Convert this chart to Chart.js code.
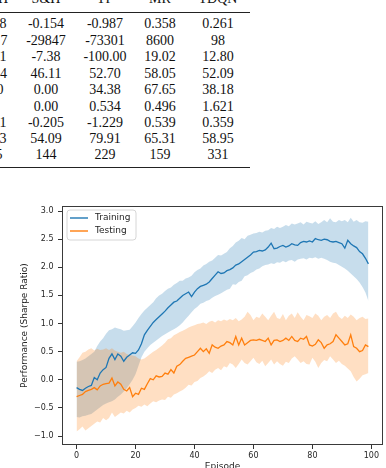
<!DOCTYPE html>
<html>
<head>
<meta charset="utf-8">
<script src="https://cdn.jsdelivr.net/npm/chart.js@4/dist/chart.umd.min.js"></script>
<style>
  html, body { margin: 0; padding: 0; background: #fff; overflow: hidden; width: 386px; height: 468px; }
  #table { position: absolute; left: 0; top: 0; width: 386px; height: 180px; font-family: "Liberation Serif", serif; font-size: 14px; color: #111; }
  .cell { position: absolute; white-space: nowrap; line-height: 1; transform: translate(-50%, -50%); }
  .tail { position: absolute; white-space: nowrap; line-height: 1; transform: translate(-100%, -50%); }
  .rule { position: absolute; left: 0; width: 250px; background: #222; }
  #wrap { position: absolute; left: 0; top: 185px; width: 386px; height: 300px; }
</style>
</head>
<body>
<div id="table"></div>
<div id="wrap"><canvas id="chart" width="386" height="300"></canvas></div>
<script>
// ---- table above the chart (partly cut off in the reference) ----
const tableHeader = ['B&H', 'S&H', 'TF', 'MR', 'TDQN'];
const colBH = ['8', '7', '1', '4', '0', '', '1', '3', '5'];   // only the last digit is visible
const colSH = ['-0.154', '-29847', '-7.38', '46.11', '0.00', '0.00', '-0.205', '54.09', '144'];
const colTF = ['-0.987', '-73301', '-100.00', '52.70', '34.38', '0.534', '-1.229', '79.91', '229'];
const colMR = ['0.358', '8600', '19.02', '58.05', '67.65', '0.496', '0.539', '65.31', '159'];
const colTDQN = ['0.261', '98', '12.80', '52.09', '38.18', '1.621', '0.359', '58.95', '331'];

// ---- chart data ----
const xTicks = [0, 20, 40, 60, 80, 100];
const yTicks = [-1.0, -0.5, 0.0, 0.5, 1.0, 1.5, 2.0, 2.5, 3.0];

const trainMean = [
  -0.14, -0.17, -0.19, -0.15, -0.12, -0.10, 0.04, 0.00, 0.12, 0.18,
  0.22, 0.38, 0.46, 0.36, 0.46, 0.42, 0.33, 0.40, 0.44, 0.48,
  0.47, 0.53, 0.64, 0.80, 0.88, 0.95, 1.02, 1.07, 1.12, 1.17,
  1.22, 1.28, 1.33, 1.38, 1.40, 1.45, 1.50, 1.53, 1.56, 1.48,
  1.56, 1.62, 1.66, 1.68, 1.70, 1.74, 1.80, 1.86, 1.92, 1.89,
  1.90, 1.94, 1.96, 1.99, 2.04, 2.06, 2.10, 2.14, 2.18, 2.22,
  2.27, 2.28, 2.30, 2.29, 2.31, 2.36, 2.43, 2.33, 2.34, 2.37,
  2.39, 2.36, 2.38, 2.42, 2.40, 2.39, 2.44, 2.46, 2.45, 2.47,
  2.45, 2.51, 2.49, 2.48, 2.50, 2.49, 2.46, 2.45, 2.46, 2.44,
  2.42, 2.34, 2.48, 2.42, 2.38, 2.35, 2.28, 2.24, 2.16, 2.06
];
const trainHigh = [
  0.32, 0.33, 0.35, 0.38, 0.42, 0.46, 0.50, 0.60, 0.68, 0.74,
  0.82, 0.88, 0.90, 0.93, 0.91, 0.90, 0.87, 0.88, 0.89, 0.95,
  1.02, 1.10, 1.17, 1.23, 1.28, 1.33, 1.38, 1.45, 1.50, 1.53,
  1.58, 1.62, 1.64, 1.69, 1.72, 1.76, 1.76, 1.80, 1.82, 1.85,
  1.91, 1.95, 1.98, 2.03, 2.06, 2.10, 2.12, 2.17, 2.22, 2.21,
  2.24, 2.27, 2.34, 2.38, 2.44, 2.47, 2.52, 2.50, 2.56, 2.58,
  2.60, 2.61, 2.63, 2.62, 2.65, 2.66, 2.70, 2.68, 2.72, 2.70,
  2.72, 2.75, 2.73, 2.78, 2.76, 2.78, 2.80, 2.76, 2.81, 2.79,
  2.78, 2.82, 2.77, 2.80, 2.84, 2.80, 2.87, 2.81, 2.80, 2.84,
  2.82, 2.84, 2.80, 2.88, 2.81, 2.84, 2.80, 2.79, 2.82, 2.81
];
const trainLow = [
  -0.66, -0.67, -0.65, -0.64, -0.62, -0.61, -0.57, -0.53, -0.49, -0.45,
  -0.42, -0.40, -0.38, -0.35, -0.30, -0.26, -0.21, -0.15, -0.08, 0.00,
  0.10, 0.25, 0.40, 0.50, 0.56, 0.62, 0.66, 0.70, 0.74, 0.78,
  0.81, 0.84, 0.87, 0.90, 0.93, 0.97, 1.02, 1.08, 1.14, 1.20,
  1.26, 1.30, 1.35, 1.37, 1.40, 1.42, 1.46, 1.49, 1.51, 1.54,
  1.57, 1.60, 1.62, 1.70, 1.69, 1.74, 1.76, 1.84, 1.86, 1.90,
  1.92, 1.96, 1.98, 2.02, 2.04, 2.05, 2.07, 2.06, 2.09, 2.08,
  2.11, 2.09, 2.12, 2.13, 2.10, 2.14, 2.15, 2.16, 2.14, 2.17,
  2.16, 2.18, 2.15, 2.17, 2.15, 2.13, 2.10, 2.08, 2.07, 2.04,
  2.01, 1.98, 1.94, 1.89, 1.84, 1.79, 1.73, 1.65, 1.55, 1.40
];

const testMean = [
  -0.30, -0.28, -0.26, -0.21, -0.19, -0.17, -0.14, -0.18, -0.11, -0.08,
  -0.07, -0.06, 0.03, -0.11, -0.04, -0.08, -0.17, -0.20, -0.14, -0.30,
  -0.24, -0.26, -0.15, -0.17, -0.07, 0.02, 0.00, 0.07, 0.05, 0.06,
  0.12, 0.10, 0.18, 0.12, 0.24, 0.27, 0.33, 0.38, 0.40, 0.42,
  0.44, 0.50, 0.56, 0.50, 0.55, 0.47, 0.62, 0.58, 0.56, 0.60,
  0.62, 0.68, 0.66, 0.62, 0.77, 0.62, 0.74, 0.62, 0.66, 0.70,
  0.71, 0.70, 0.72, 0.70, 0.68, 0.74, 0.62, 0.70, 0.71, 0.68,
  0.70, 0.74, 0.70, 0.77, 0.70, 0.68, 0.74, 0.72, 0.77, 0.62,
  0.60, 0.63, 0.71, 0.66, 0.56, 0.62, 0.64, 0.68, 0.80, 0.74,
  0.68, 0.62, 0.64, 0.80, 0.59, 0.56, 0.50, 0.52, 0.62, 0.59
];
const testHigh = [
  0.33, 0.40, 0.48, 0.50, 0.54, 0.56, 0.52, 0.55, 0.53, 0.54,
  0.56, 0.53, 0.56, 0.52, 0.50, 0.48, 0.50, 0.46, 0.44, 0.43,
  0.42, 0.38, 0.36, 0.38, 0.42, 0.46, 0.50, 0.53, 0.57, 0.61,
  0.66, 0.72, 0.74, 0.79, 0.82, 0.85, 0.87, 0.90, 0.93, 0.95,
  0.97, 0.99, 1.00, 1.02, 0.99, 1.03, 1.05, 1.02, 1.06, 1.04,
  1.07, 1.05, 1.08, 1.06, 1.10, 1.04, 1.07, 1.12, 1.21, 1.15,
  1.06, 1.12, 1.10, 1.18, 1.12, 1.06, 1.14, 1.21, 1.10, 1.08,
  1.17, 1.06, 1.14, 1.18, 1.10, 1.20, 1.12, 1.06, 1.15, 1.13,
  1.10, 1.18, 1.14, 1.06, 1.12, 1.15, 1.10, 1.18, 1.21, 1.12,
  1.08, 1.14, 1.10, 1.16, 1.12, 1.06, 1.10, 1.12, 1.08, 1.09
];
const testLow = [
  -0.92, -0.88, -0.83, -0.90, -0.86, -0.82, -0.78, -0.74, -0.76, -0.68,
  -0.72, -0.68, -0.58, -0.66, -0.62, -0.58, -0.60, -0.55, -0.58, -0.53,
  -0.50, -0.46, -0.48, -0.44, -0.47, -0.42, -0.38, -0.40, -0.37, -0.35,
  -0.36, -0.30, -0.32, -0.26, -0.24, -0.21, -0.18, -0.14, -0.09, -0.10,
  -0.04, -0.02, 0.03, 0.06, 0.10, 0.15, 0.12, 0.18, 0.21, 0.17,
  0.24, 0.22, 0.30, 0.27, 0.21, 0.28, 0.36, 0.30, 0.27, 0.33,
  0.39, 0.31, 0.28, 0.34, 0.24, 0.30, 0.36, 0.27, 0.33, 0.28,
  0.25, 0.32, 0.30, 0.38, 0.42, 0.36, 0.30, 0.33, 0.28, 0.27,
  0.39, 0.32, 0.21, 0.30, 0.35, 0.33, 0.42, 0.36, 0.30, 0.34,
  0.28, 0.25, 0.20, 0.15, 0.05, -0.03, 0.02, 0.08, 0.10, 0.12
];

// ---- build the table ----
const table = document.getElementById('table');
const colX = [46, 105, 160, 218];
const rowY = [24, 40.7, 57.3, 73.5, 90, 106.7, 122.7, 138.6, 155];
const tailX = [6.5, 7.5, 6.5, 7, 3.5, 7, 6.5, 6.5, 2.5];
function addText(cls, text, x, y) {
  const el = document.createElement('div');
  el.className = cls;
  el.textContent = text;
  el.style.left = x + 'px';
  el.style.top = y + 'px';
  table.appendChild(el);
}
addText('tail', tableHeader[0], 8, -1.2);
tableHeader.slice(1).forEach((h, i) => addText('cell', h, colX[i], -1.2));
[colSH, colTF, colMR, colTDQN].forEach((col, c) => {
  col.forEach((v, r) => addText('cell', v, colX[c], rowY[r]));
});
colBH.forEach((v, r) => addText('tail', v, tailX[r], rowY[r]));
function addRule(y, h) {
  const el = document.createElement('div');
  el.className = 'rule';
  el.style.top = y + 'px';
  el.style.height = h + 'px';
  table.appendChild(el);
}
addRule(12, 1);
addRule(166.5, 1.5);

// ---- chart ----
const episodes = trainMean.map((_, i) => i);
const pts = ys => ys.map((y, i) => ({x: episodes[i], y: y}));

const frame = {
  id: 'frame',
  afterDatasetsDraw(chart) {
    const {ctx, chartArea: a} = chart;
    ctx.save();
    ctx.strokeStyle = '#3a3a3a';
    ctx.lineWidth = 1;
    ctx.strokeRect(a.left + 0.5, a.top + 0.5, a.right - a.left - 1, a.bottom - a.top - 1);
    ctx.restore();
  }
};

const legendBox = {
  id: 'legendBox',
  afterDraw(chart) {
    const {ctx, chartArea: a} = chart;
    const items = chart.data.datasets.filter(d => d.inLegend);
    const x = a.left + 5, y = a.top + 4, w = 69, h = 30, r = 3;
    ctx.save();
    ctx.beginPath();
    ctx.moveTo(x + r, y);
    ctx.arcTo(x + w, y, x + w, y + h, r);
    ctx.arcTo(x + w, y + h, x, y + h, r);
    ctx.arcTo(x, y + h, x, y, r);
    ctx.arcTo(x, y, x + w, y, r);
    ctx.closePath();
    ctx.fillStyle = 'rgba(255,255,255,0.8)';
    ctx.fill();
    ctx.strokeStyle = '#d6d6d6';
    ctx.lineWidth = 1;
    ctx.stroke();
    ctx.font = '9px "DejaVu Sans"';
    ctx.textBaseline = 'middle';
    items.forEach((d, i) => {
      const ly = y + 8 + i * 13;
      ctx.strokeStyle = d.borderColor;
      ctx.lineWidth = 1.4;
      ctx.beginPath();
      ctx.moveTo(x + 3, ly);
      ctx.lineTo(x + 21, ly);
      ctx.stroke();
      ctx.fillStyle = '#262626';
      ctx.fillText(d.label, x + 28, ly);
    });
    ctx.restore();
  }
};

const tickFont = {family: 'DejaVu Sans', size: 8};
const titleFont = {family: 'DejaVu Sans', size: 9};

new Chart(document.getElementById('chart').getContext('2d'), {
  type: 'line',
  data: {
    datasets: [
      {label: 'Training low', data: pts(trainLow), borderWidth: 0, pointRadius: 0, fill: false, order: 4},
      {label: 'Training band', data: pts(trainHigh), borderWidth: 0, pointRadius: 0, fill: '-1',
       backgroundColor: 'rgba(31,119,180,0.25)', order: 4},
      {label: 'Testing low', data: pts(testLow), borderWidth: 0, pointRadius: 0, fill: false, order: 3},
      {label: 'Testing band', data: pts(testHigh), borderWidth: 0, pointRadius: 0, fill: '-1',
       backgroundColor: 'rgba(255,127,14,0.25)', order: 3},
      {label: 'Training', inLegend: true, data: pts(trainMean), borderColor: '#1f77b4', borderWidth: 1.3,
       pointRadius: 0, fill: false, order: 2},
      {label: 'Testing', inLegend: true, data: pts(testMean), borderColor: '#ff7f0e', borderWidth: 1.3,
       pointRadius: 0, fill: false, order: 1}
    ]
  },
  options: {
    responsive: false,
    devicePixelRatio: 1,
    animation: false,
    events: [],
    layout: {padding: {top: 21, right: 3, left: 0, bottom: 0}},
    plugins: {legend: {display: false}, tooltip: {enabled: false}},
    scales: {
      x: {
        type: 'linear',
        min: -4.95,
        max: 103.95,
        afterBuildTicks: s => { s.ticks = xTicks.map(v => ({value: v})); },
        afterFit: s => { s.height = 40; },
        grid: {display: true, drawOnChartArea: false, drawTicks: true, tickLength: 4, color: '#333'},
        border: {display: false},
        ticks: {padding: 2, color: '#262626', font: tickFont, maxRotation: 0, autoSkip: false},
        title: {display: true, text: 'Episode', color: '#262626', font: titleFont, padding: {top: 0, bottom: 12.6}}
      },
      y: {
        min: -1.16,
        max: 3.09,
        afterBuildTicks: s => { s.ticks = yTicks.map(v => ({value: v})); },
        afterFit: s => { s.width = 62; },
        grid: {display: true, drawOnChartArea: false, drawTicks: true, tickLength: 4, color: '#333'},
        border: {display: false},
        ticks: {padding: 4.5, color: '#262626', font: tickFont, autoSkip: false,
                callback: v => v.toFixed(1).replace('-', '\u2212')},
        title: {display: true, text: 'Performance (Sharpe Ratio)', color: '#262626', font: titleFont,
                padding: {top: 19.6, bottom: 0}}
      }
    }
  },
  plugins: [frame, legendBox]
});
</script>
</body>
</html>
